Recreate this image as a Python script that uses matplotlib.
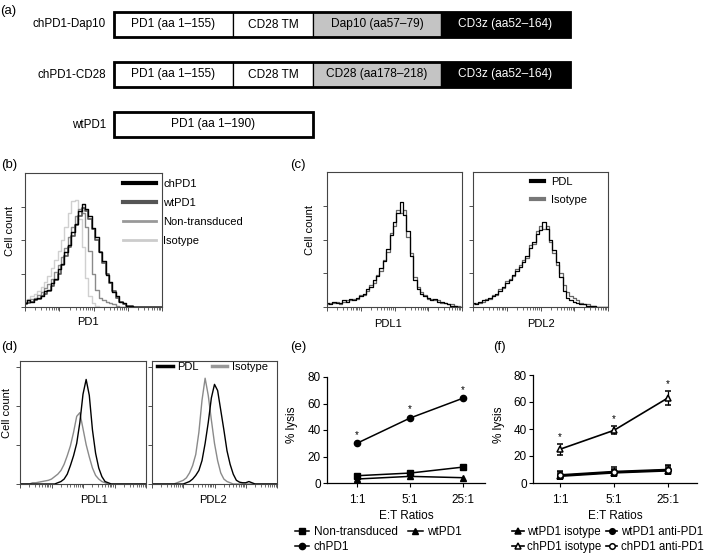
import numpy as np
import matplotlib
matplotlib.use('Agg')
import matplotlib.pyplot as plt
from matplotlib.lines import Line2D
from matplotlib.ticker import LogLocator, NullFormatter

plt.rcParams['font.family'] = ['Liberation Sans', 'DejaVu Sans']

# ---------------- data ----------------
# (a) construct schematic
construct_names = ['chPD1-Dap10', 'chPD1-CD28', 'wtPD1']
construct_segments = [
    ['PD1 (aa 1–155)', 'CD28 TM', 'Dap10 (aa57–79)', 'CD3z (aa52–164)'],
    ['PD1 (aa 1–155)', 'CD28 TM', 'CD28 (aa178–218)', 'CD3z (aa52–164)'],
    ['PD1 (aa 1–190)'],
]
segment_lengths = [[119, 80, 128, 129], [119, 80, 128, 129], [199]]
segment_fill = [['white', 'white', '#c4c4c4', 'black'],
                ['white', 'white', '#c4c4c4', 'black'],
                ['white']]
segment_text = [['black', 'black', 'black', 'white'],
                ['black', 'black', 'black', 'white'],
                ['black']]

# histogram bins (log10 fluorescence, decades)
decades = np.round(np.arange(0, 4.01, 0.1), 2)

# (b) PD1 expression
b_chpd1 = [.03, .05, .04, .06, .07, .08, .12, .13, .18, .21, .28, .32, .41, .46, .56, .62, .72, .77, .73, .68,
           .59, .52, .41, .34, .24, .19, .11, .08, .04, .03, .01, .01, 0, 0, 0, 0, 0, 0, 0, 0, 0]
b_wtpd1 = [.02, .03, .04, .05, .06, .08, .10, .12, .16, .20, .25, .31, .38, .45, .53, .61, .68, .74, .72, .66,
           .58, .50, .41, .33, .25, .18, .12, .07, .04, .02, .01, .005, 0, 0, 0, 0, 0, 0, 0, 0, 0]
b_nontrans = [.04, .05, .06, .07, .09, .11, .14, .17, .21, .26, .31, .37, .44, .52, .60, .68, .73, .70, .60, .42,
              .25, .13, .07, .05, .04, .03, .02, .01, 0, 0, 0, 0, 0, 0, 0, 0, 0, 0, 0, 0, 0]
b_isotype = [.05, .06, .08, .10, .12, .15, .19, .23, .29, .35, .42, .50, .60, .70, .79, .80, .66, .45, .22, .08,
             .03, .01, 0, 0, 0, 0, 0, 0, 0, 0, 0, 0, 0, 0, 0, 0, 0, 0, 0, 0, 0]

# (c) PDL1 / PDL2 on targets
c_pdl1 = [.03, .02, .04, .03, .03, .05, .04, .06, .05, .07, .08, .10, .13, .15, .20, .23, .29, .34, .43, .53,
          .63, .70, .78, .68, .56, .38, .20, .13, .10, .08, .07, .05, .06, .04, .04, .03, .02, .01, .01, 0, 0]
c_pdl1_iso = [.02, .03, .03, .04, .02, .04, .05, .05, .06, .06, .09, .09, .12, .16, .18, .24, .27, .35, .41, .55,
              .60, .72, .70, .72, .52, .40, .22, .15, .11, .09, .06, .06, .05, .05, .03, .03, .02, .02, .01, .01, 0]
c_pdl2 = [.03, .02, .04, .05, .05, .07, .08, .10, .12, .15, .18, .20, .24, .27, .30, .33, .38, .44, .48, .54,
          .57, .63, .58, .50, .42, .33, .22, .12, .07, .05, .04, .03, .02, .02, .01, .01, .01, 0, 0, 0, 0]
c_pdl2_iso = [.02, .03, .03, .04, .06, .06, .09, .09, .13, .14, .19, .21, .23, .28, .31, .35, .36, .46, .47, .56,
              .60, .58, .60, .48, .40, .31, .25, .16, .11, .08, .07, .05, .03, .02, .02, .01, .01, 0, 0, 0, 0]

# (d) PDL1 / PDL2 on second target
d_pdl1 = [0] * 12 + [.01, .02, .04, .08, .15, .23, .33, .50, .73, .85, .72, .44, .25, .13, .06, .02, .01] + [0] * 12
d_pdl1_iso = [0] * 4 + [.01, .01, .015, .02, .025, .03, .04, .06, .08, .11, .16, .23, .31, .42, .55, .58, .45,
                        .32, .22, .13, .07, .04, .02, .01] + [0] * 13
d_pdl2 = [0] * 11 + [.01, .02, .04, .07, .11, .19, .33, .50, .70, .81, .76, .60, .44, .27, .16, .08, .03, .015,
                     .01, .01, .02, .01] + [0] * 8
d_pdl2_iso = [0] * 8 + [.01, .02, .03, .05, .09, .15, .24, .42, .68, .86, .72, .52, .33, .19, .09, .04, .02,
                        .01] + [0] * 15

# (e) cytotoxicity
ratios = ['1:1', '5:1', '25:1']
e_nontrans = [5.5, 7.5, 12]
e_wtpd1 = [3, 5, 4]
e_chpd1 = [30, 49, 64]

# (f) cytotoxicity with blocking
f_wt_iso = [5, 7.5, 9]
f_wt_iso_err = [2, 2, 2]
f_ch_iso = [25, 39, 63]
f_ch_iso_err = [4, 3, 5]
f_wt_anti = [5.5, 8, 9.5]
f_wt_anti_err = [2.5, 2.5, 3]
f_ch_anti = [6, 8.5, 10]
f_ch_anti_err = [3, 3, 3.5]

# ---------------- figure ----------------
W, H = 709, 554
fig = plt.figure(figsize=(W / 100, H / 100), dpi=100)


def px_axes(l, t, r, b):
    return fig.add_axes([l / W, 1 - b / H, (r - l) / W, (b - t) / H])


def fig_text(x, y, s, **kw):
    fig.text(x / W, 1 - y / H, s, **kw)


# ---- (a)
ax_a = fig.add_axes([0, 1 - 150 / H, 1, 150 / H])
ax_a.set_xlim(-114, 595)
ax_a.set_ylim(2.51, -0.49)
ax_a.axis('off')
for row, (name, segs, lens, fills, tcols) in enumerate(
        zip(construct_names, construct_segments, segment_lengths, segment_fill, segment_text)):
    lefts = np.concatenate([[0], np.cumsum(lens)[:-1]])
    ax_a.barh(row, lens, left=lefts, height=0.5, color=fills, edgecolor='black', linewidth=0.9)
    ax_a.barh(row, sum(lens), left=0, height=0.5, fill=False, edgecolor='black', linewidth=2.0)
    for s, l0, ln, tc in zip(segs, lefts, lens, tcols):
        ax_a.text(l0 + ln / 2, row, s, ha='center', va='center', fontsize=8.6, color=tc)
    ax_a.text(-8, row, name, ha='right', va='center', fontsize=8.4)
fig_text(0, 11, '(a)', fontsize=9.5, va='center')


def style_hist(ax, ticks=(0, .25, .5, .75)):
    ax.set_xscale('log')
    ax.set_xlim(1, 1e4)
    ax.set_ylim(0, 1)
    ax.set_yticks(ticks)
    ax.yaxis.set_major_formatter(NullFormatter())
    ax.xaxis.set_major_locator(LogLocator(base=10, numticks=10))
    ax.xaxis.set_minor_locator(LogLocator(base=10, subs=np.arange(2, 10), numticks=10))
    ax.xaxis.set_major_formatter(NullFormatter())
    ax.xaxis.set_minor_formatter(NullFormatter())
    ax.tick_params(which='major', direction='out', length=3, width=0.6, colors='#333')
    ax.tick_params(which='minor', direction='out', length=2, width=0.5, colors='#333')
    for sp in ax.spines.values():
        sp.set_linewidth(0.8)
        sp.set_color('#444')


xvals = 10 ** decades

# ---- (b)
ax_b = px_axes(25, 173, 162, 307)
ax_b.plot(xvals, b_isotype, color='#d0d0d0', lw=1.0, drawstyle='steps-mid')
ax_b.plot(xvals, b_nontrans, color='#8a8a8a', lw=1.0, drawstyle='steps-mid')
ax_b.plot(xvals, b_wtpd1, color='#555555', lw=1.2, drawstyle='steps-mid')
ax_b.plot(xvals, b_chpd1, color='black', lw=1.0, drawstyle='steps-mid')
style_hist(ax_b)
ax_b.set_ylabel('Cell count', fontsize=8)
ax_b.yaxis.set_label_coords(-10 / 137, 0.567)
ax_b.set_xlabel('PD1', fontsize=8)
ax_b.xaxis.set_label_coords(0.46, -10 / 134)
hb = [Line2D([], [], color='black', lw=3), Line2D([], [], color='#555555', lw=3),
      Line2D([], [], color='#999999', lw=2), Line2D([], [], color='#cccccc', lw=2)]
fig.legend(hb, ['chPD1', 'wtPD1', 'Non-transduced', 'Isotype'], loc='upper left',
           bbox_to_anchor=(123 / W, 1 - 179 / H), frameon=False, fontsize=8, handlelength=3.0,
           handletextpad=0.6, labelspacing=0.8, borderpad=0, borderaxespad=0)
fig_text(1, 165, '(b)', fontsize=9.5, va='center')

# ---- (c)
ax_c1 = px_axes(327, 172, 462, 307)
ax_c2 = px_axes(473, 172, 608, 307)
for ax, pdl, iso, lab, lx in [(ax_c1, c_pdl1, c_pdl1_iso, 'PDL1', 0.45), (ax_c2, c_pdl2, c_pdl2_iso, 'PDL2', 0.5)]:
    ax.plot(xvals, iso, color='#666666', lw=0.9, drawstyle='steps-mid')
    ax.plot(xvals, pdl, color='black', lw=0.9, drawstyle='steps-mid')
    style_hist(ax)
    ax.set_xlabel(lab, fontsize=8)
    ax.xaxis.set_label_coords(lx, -12 / 135)
ax_c1.set_ylabel('Cell count', fontsize=8)
ax_c1.yaxis.set_label_coords(-12 / 135, 0.57)
hc = [Line2D([], [], color='black', lw=3), Line2D([], [], color='#777777', lw=3)]
fig.legend(hc, ['PDL', 'Isotype'], loc='upper left', bbox_to_anchor=(531 / W, 1 - 177 / H),
           frameon=False, fontsize=8, handlelength=1.2, handletextpad=0.6, labelspacing=0.75,
           borderpad=0, borderaxespad=0)
fig_text(290, 165, '(c)', fontsize=9.5, va='center')

# ---- (d)
ax_d1 = px_axes(20, 361, 146, 484)
ax_d2 = px_axes(152, 361, 277, 484)
dticks = (0, 0.317, 0.634, 0.951)
for ax, pdl, iso, lab, lx in [(ax_d1, d_pdl1, d_pdl1_iso, 'PDL1', 0.587), (ax_d2, d_pdl2, d_pdl2_iso, 'PDL2', 0.49)]:
    ax.plot(xvals, iso, color='#8a8a8a', lw=1.0)
    ax.plot(xvals, pdl, color='black', lw=1.0)
    style_hist(ax, dticks)
    ax.set_xlabel(lab, fontsize=8)
    ax.xaxis.set_label_coords(lx, -11 / 123)
ax_d1.set_ylabel('Cell count', fontsize=8)
ax_d1.yaxis.set_label_coords(-8 / 126, 0.58)
hd = [Line2D([], [], color='black', lw=2.5), Line2D([], [], color='#999999', lw=2.5)]
fig.legend(hd, ['PDL', 'Isotype'], loc='upper left', bbox_to_anchor=(157 / W, 1 - 362 / H),
           frameon=False, fontsize=8, handlelength=1.4, handletextpad=0.4, columnspacing=1.2,
           ncol=2, borderpad=0, borderaxespad=0)
fig_text(1, 347, '(d)', fontsize=9.5, va='center')


def style_lysis(ax, xlim):
    ax.set_xlim(*xlim)
    ax.set_ylim(0, 80)
    ax.set_yticks([0, 20, 40, 60, 80])
    ax.set_xticks(range(len(ratios)))
    ax.set_xticklabels(ratios)
    for s in ['top', 'right']:
        ax.spines[s].set_visible(False)
    for s in ['left', 'bottom']:
        ax.spines[s].set_linewidth(0.9)
    ax.tick_params(direction='out', length=3, width=0.8, labelsize=8.5, pad=1.5)
    ax.tick_params(axis='x', pad=5)
    ax.set_ylabel('% lysis', fontsize=8.5)
    ax.set_xlabel('E:T Ratios', fontsize=8.5, labelpad=3)


xpos = np.arange(len(ratios))

# ---- (e)
ax_e = px_axes(327, 377, 485, 483)
ax_e.plot(xpos, e_nontrans, color='black', marker='s', ms=4, lw=1.1, label='Non-transduced', clip_on=False)
ax_e.plot(xpos, e_chpd1, color='black', marker='o', ms=4.5, lw=1.1, label='chPD1', clip_on=False)
ax_e.plot(xpos, e_wtpd1, color='black', marker='^', ms=4, lw=1.1, label='wtPD1', clip_on=False)
for xi, v in zip(xpos, e_chpd1):
    ax_e.text(xi, v + 6.5, '*', ha='center', va='center', fontsize=7)
style_lysis(ax_e, (-0.566, 2.415))
ax_e.yaxis.set_label_coords(-29 / 158, 0.55)
fig.legend(*ax_e.get_legend_handles_labels(), loc='upper left', bbox_to_anchor=(295 / W, 1 - 526 / H),
           ncol=2, frameon=False, fontsize=8.5, handlelength=1.2, handletextpad=0.4,
           columnspacing=0.9, labelspacing=0.25, borderpad=0, borderaxespad=0)
fig_text(290, 347, '(e)', fontsize=9.5, va='center')

# ---- (f)
ax_f = px_axes(533, 375, 697, 483)
f_series = [
    (f_wt_iso, f_wt_iso_err, '^', 'black', 4, 'wtPD1 isotype'),
    (f_ch_iso, f_ch_iso_err, '^', 'white', 4.5, 'chPD1 isotype'),
    (f_wt_anti, f_wt_anti_err, 'o', 'black', 4, 'wtPD1 anti-PD1'),
    (f_ch_anti, f_ch_anti_err, 'o', 'white', 4, 'chPD1 anti-PD1'),
]
f_handles = []
for vals, errs, mk, mfc, ms, lab in f_series:
    ax_f.errorbar(xpos, vals, yerr=errs, color='black', marker=mk, ms=ms, mfc=mfc, mew=1.1,
                  capsize=2, elinewidth=0.9, capthick=0.9, lw=1.2, clip_on=False)
    f_handles.append(Line2D([], [], color='black', marker=mk, ms=ms, mfc=mfc, mew=1.1, lw=1.2, label=lab))
for xi, v, e in zip(xpos, f_ch_iso, f_ch_iso_err):
    ax_f.text(xi, v + e + 5, '*', ha='center', va='center', fontsize=7)
style_lysis(ax_f, (-0.5, 2.54))
ax_f.yaxis.set_label_coords(-28 / 164, 0.54)
fig.legend(handles=f_handles, loc='upper left', bbox_to_anchor=(512 / W, 1 - 526 / H),
           ncol=2, frameon=False, fontsize=8.3, handlelength=1.0, handletextpad=0.3,
           columnspacing=0.4, labelspacing=0.25, borderpad=0, borderaxespad=0)
fig_text(493, 347, '(f)', fontsize=9.5, va='center')

fig.savefig('out.png', dpi=100)
